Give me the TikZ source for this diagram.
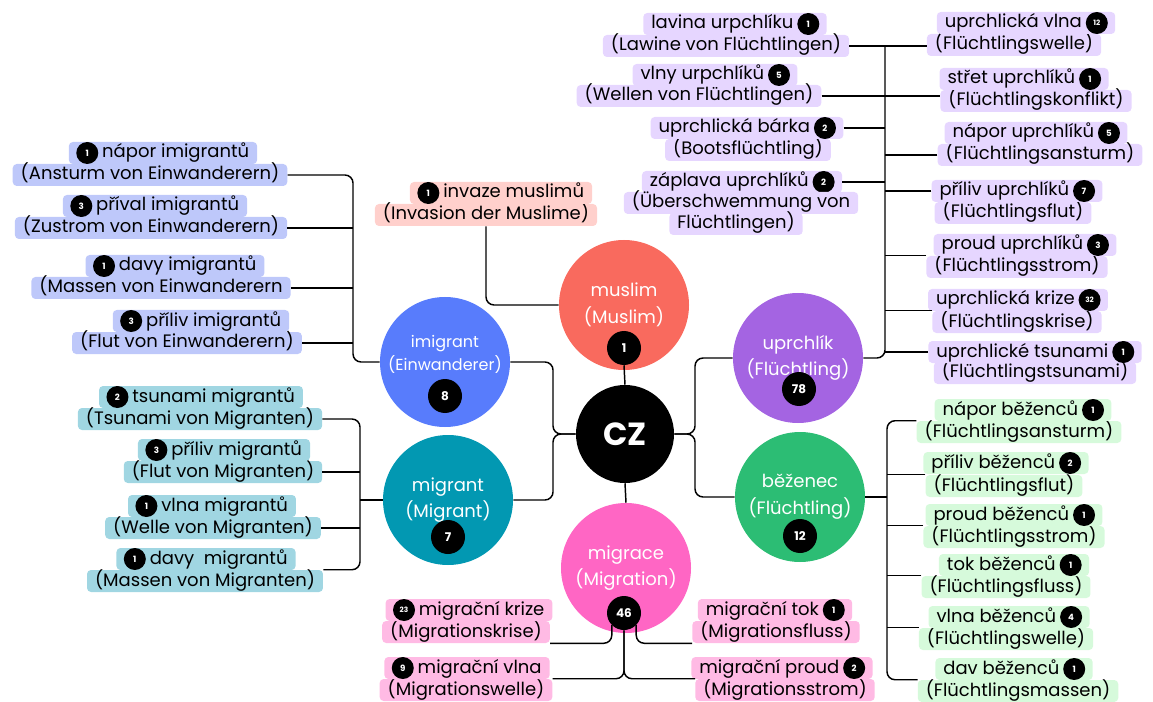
\documentclass[tikz,border=0pt]{standalone}
\usepackage{fontspec}
\setmainfont{Poppins}

\definecolor{imigC}{RGB}{88,124,252}
\definecolor{imigL}{RGB}{190,200,250}
\definecolor{migrC}{RGB}{2,152,178}
\definecolor{migrL}{RGB}{160,214,226}
\definecolor{musC}{RGB}{249,106,94}
\definecolor{musL}{RGB}{255,208,204}
\definecolor{uprC}{RGB}{164,100,226}
\definecolor{uprL}{RGB}{230,214,255}
\definecolor{bezC}{RGB}{44,189,116}
\definecolor{bezL}{RGB}{214,250,219}
\definecolor{migcC}{RGB}{255,102,196}
\definecolor{migcL}{RGB}{255,186,228}

\newcommand\bgap{\hspace*{19pt}}

\begin{document}
\begin{tikzpicture}[x=0.75pt,y=0.75pt,yscale=-1,xscale=1,
  hl/.style={rounded corners=3pt, inner xsep=6pt, inner ysep=1.5pt, text height=10.5pt, text depth=3pt, font=\fontsize{13.5}{16}\selectfont},
  bdg/.style={circle, fill=black, text=white, inner sep=0pt, minimum size=16.5pt, font=\bfseries\fontsize{6.5}{7}\selectfont},
  bigbdg/.style={bdg, minimum size=25.5pt, font=\bfseries\fontsize{9}{10}\selectfont},
  topic/.style={circle, minimum size=97.5pt, inner sep=0pt, text=white, align=center, font=\fontsize{13.5}{20}\selectfont},
  conn/.style={line width=1.1pt, rounded corners=6pt}]
\useasboundingbox (0,0) rectangle (1153,702);

%Topic circles
\node[topic, fill=black, minimum size=73.5pt, font=\bfseries\fontsize{24}{26}\selectfont] (cz) at (625,434) {CZ};
\node[topic, fill=musC] (mus) at (624,305) {muslim\\(Muslim)};
\node[bigbdg] (mub) at (624,348) {1};
\node[topic, fill=imigC, font=\fontsize{12}{17}\selectfont] (imig) at (445,362) {imigrant\\(Einwanderer)\\[-3.5pt]\mbox{}};
\node[bigbdg] (imb) at (445,396) {8};
\node[topic, fill=migrC] (migr) at (448,500) {migrant\\(Migrant)};
\node[bigbdg] (mib) at (448,537) {7};
\node[topic, fill=migcC] (migc) at (626,568) {migrace\\(Migration)};
\node[bigbdg] (mgb) at (624,613) {46};
\node[topic, fill=uprC] (upr) at (798,358) {uprchlík\\(Flüchtling)};
\node[bigbdg] (upb) at (799,389) {78};
\node[topic, fill=bezC] (bez) at (800,497) {běženec\\(Flüchtling)};
\node[bigbdg] (bzb) at (800,536) {12};

%imigrant labels
\node[hl, fill=imigL] (ia2) at (150,175) {(Ansturm von Einwanderern)};
\node[hl, fill=imigL] (ia1) at (163,153) {\bgap nápor imigrantů};
\node[bdg] (ia1b) at ([xshift=14pt]ia1.west) {1};
\node[hl, fill=imigL] (ib2) at (151,228) {(Zustrom von Einwanderern)};
\node[hl, fill=imigL] (ib1) at (155,206) {\bgap příval imigrantů};
\node[bdg] (ib1b) at ([xshift=14pt]ib1.west) {3};
\node[hl, fill=imigL] (ic2) at (161,288) {(Massen von Einwanderern};
\node[hl, fill=imigL] (ic1) at (175,266) {\bgap davy imigrantů};
\node[bdg] (ic1b) at ([xshift=14pt]ic1.west) {1};
\node[hl, fill=imigL] (id2) at (187,343) {(Flut von Einwanderern)};
\node[hl, fill=imigL] (id1) at (201,321) {\bgap příliv imigrantů};
\node[bdg] (id1b) at ([xshift=14pt]id1.west) {3};

%migrant labels
\node[hl, fill=migrL] (ma2) at (200,419) {(Tsunami von Migranten)};
\node[hl, fill=migrL] (ma1) at (201,397) {\bgap tsunami migrantů};
\node[bdg] (ma1b) at ([xshift=14pt]ma1.west) {2};
\node[hl, fill=migrL] (mb2) at (223,472) {(Flut von Migranten)};
\node[hl, fill=migrL] (mb1) at (224,450) {\bgap příliv migrantů};
\node[bdg] (mb1b) at ([xshift=14pt]mb1.west) {3};
\node[hl, fill=migrL] (mc2) at (213,528) {(Welle von Migranten)};
\node[hl, fill=migrL] (mc1) at (212,506) {\bgap vlna migrantů};
\node[bdg] (mc1b) at ([xshift=14pt]mc1.west) {1};
\node[hl, fill=migrL] (md2) at (205,581) {(Massen von Migranten)};
\node[hl, fill=migrL] (md1) at (206,559) {\bgap davy\ \ migrantů};
\node[bdg] (md1b) at ([xshift=14pt]md1.west) {1};

%muslim label
\node[hl, fill=musL] (mu2) at (486,215) {(Invasion der Muslime)};
\node[hl, fill=musL] (mu1) at (501,193) {\bgap invaze muslimů};
\node[bdg] (mu1b) at ([xshift=14pt]mu1.west) {1};

%uprchlik labels, left
\node[hl, fill=uprL] (ua2) at (726,46) {(Lawine von Flüchtlingen)};
\node[hl, fill=uprL] (ua1) at (735,24) {lavina urpchlíku\bgap};
\node[bdg] (ua1b) at ([xshift=-14pt]ua1.east) {1};
\node[hl, fill=uprL] (ub2) at (699,96) {(Wellen von Flüchtlingen)};
\node[hl, fill=uprL] (ub1) at (715,75) {vlny urpchlíků\bgap};
\node[bdg] (ub1b) at ([xshift=-14pt]ub1.east) {5};
\node[hl, fill=uprL] (uc2) at (748,150) {(Bootsflüchtling)};
\node[hl, fill=uprL] (uc1) at (747,128) {uprchlická bárka\bgap};
\node[bdg] (uc1b) at ([xshift=-14pt]uc1.east) {2};
\node[hl, fill=uprL] (ud1) at (742,182) {záplava uprchlíků\bgap};
\node[bdg] (ud1b) at ([xshift=-14pt]ud1.east) {2};
\node[hl, fill=uprL] (ud2) at (741,203) {(Überschwemmung von};
\node[hl, fill=uprL] (ud3) at (736,224) {Flüchtlingen)};

%uprchlik labels, right
\node[hl, fill=uprL] (ue2) at (1014,45) {(Flüchtlingswelle)};
\node[hl, fill=uprL] (ue1) at (1026,23) {uprchlická vlna\bgap};
\node[bdg, font=\bfseries\fontsize{5.5}{6}\selectfont] (ue1b) at ([xshift=-14pt]ue1.east) {12};
\node[hl, fill=uprL] (uf2) at (1036,101) {(Flüchtlingskonflikt)};
\node[hl, fill=uprL] (uf1) at (1024,79) {střet uprchlíků\bgap};
\node[bdg] (uf1b) at ([xshift=-14pt]uf1.east) {1};
\node[hl, fill=uprL] (ug2) at (1040,155) {(Flüchtlingsansturm)};
\node[hl, fill=uprL] (ug1) at (1036,133) {nápor uprchlíků\bgap};
\node[bdg] (ug1b) at ([xshift=-14pt]ug1.east) {5};
\node[hl, fill=uprL] (uh2) at (1013,213) {(Flüchtlingsflut)};
\node[hl, fill=uprL] (uh1) at (1017,191) {příliv uprchlíků\bgap};
\node[bdg] (uh1b) at ([xshift=-14pt]uh1.east) {7};
\node[hl, fill=uprL] (ui2) at (1017,267) {(Flüchtlingsstrom)};
\node[hl, fill=uprL] (ui1) at (1025,245) {proud uprchlíků\bgap};
\node[bdg] (ui1b) at ([xshift=-14pt]ui1.east) {3};
\node[hl, fill=uprL] (uj2) at (1017,322) {(Flüchtlingskrise)};
\node[hl, fill=uprL] (uj1) at (1018,300) {uprchlická krize\bgap};
\node[bdg, font=\bfseries\fontsize{5.5}{6}\selectfont] (uj1b) at ([xshift=-14pt]uj1.east) {32};
\node[hl, fill=uprL] (uk2) at (1035,373) {(Flüchtlingstsunami)};
\node[hl, fill=uprL] (uk1) at (1035,352) {uprchlické tsunami\bgap};
\node[bdg] (uk1b) at ([xshift=-14pt]uk1.east) {1};

%bezenec labels
\node[hl, fill=bezL] (ba2) at (1019,432) {(Flüchtlingsansturm)};
\node[hl, fill=bezL] (ba1) at (1023,410) {nápor běženců\bgap};
\node[bdg] (ba1b) at ([xshift=-14pt]ba1.east) {1};
\node[hl, fill=bezL] (bb2) at (1004,486) {(Flüchtlingsflut)};
\node[hl, fill=bezL] (bb1) at (1006,463) {příliv běženců\bgap};
\node[bdg] (bb1b) at ([xshift=-14pt]bb1.east) {2};
\node[hl, fill=bezL] (bc2) at (1014,537) {(Flüchtlingsstrom)};
\node[hl, fill=bezL] (bc1) at (1014,515) {proud běženců\bgap};
\node[bdg] (bc1b) at ([xshift=-14pt]bc1.east) {1};
\node[hl, fill=bezL] (bd2) at (1006,587) {(Flüchtlingsfluss)};
\node[hl, fill=bezL] (bd1) at (1014,565) {tok běženců\bgap};
\node[bdg] (bd1b) at ([xshift=-14pt]bd1.east) {1};
\node[hl, fill=bezL] (be2) at (1006,639) {(Flüchtlingswelle)};
\node[hl, fill=bezL] (be1) at (1009,617) {vlna běženců\bgap};
\node[bdg] (be1b) at ([xshift=-14pt]be1.east) {4};
\node[hl, fill=bezL] (bf2) at (1018,691) {(Flüchtlingsmassen)};
\node[hl, fill=bezL] (bf1) at (1014,669) {dav běženců\bgap};
\node[bdg] (bf1b) at ([xshift=-14pt]bf1.east) {1};

%migrace labels
\node[hl, fill=migcL] (ga2) at (466,632) {(Migrationskrise)};
\node[hl, fill=migcL] (ga1) at (469,610) {\bgap migrační krize};
\node[bdg, font=\bfseries\fontsize{5.5}{6}\selectfont] (ga1b) at ([xshift=14pt]ga1.west) {23};
\node[hl, fill=migcL] (gb2) at (466,690) {(Migrationswelle)};
\node[hl, fill=migcL] (gb1) at (467,668) {\bgap migrační vlna};
\node[bdg] (gb1b) at ([xshift=14pt]gb1.west) {9};
\node[hl, fill=migcL] (gc2) at (776,632) {(Migrationsfluss)};
\node[hl, fill=migcL] (gc1) at (775,610) {migrační tok\bgap};
\node[bdg] (gc1b) at ([xshift=-14pt]gc1.east) {1};
\node[hl, fill=migcL] (gd2) at (785,690) {(Migrationsstrom)};
\node[hl, fill=migcL] (gd1) at (782,668) {migrační proud\bgap};
\node[bdg] (gd1b) at ([xshift=-14pt]gd1.east) {2};

%Trunks
\coordinate (ti) at (353,0);
\coordinate (tm) at (360,0);
\coordinate (tu) at (885,0);
\coordinate (tb) at (887,0);
\coordinate (czl) at (553,434);
\coordinate (czr) at (695,434);

%Connectors around CZ
\draw[conn] (cz.north) -- (mub.south);
\draw[conn] (cz.south) -- (migc.north);
\draw[conn] (cz.west) -- (czl) |- (imig.east);
\draw[conn] (cz.west) -- (czl) |- (migr.east);
\draw[conn] (cz.east) -- (czr) |- (upr.west);
\draw[conn] (cz.east) -- (czr) |- (bez.west);

%imigrant
\draw[conn] (ia2.east) -| (ti |- imig.west) -- (imig.west);
\foreach \n in {ib2,ic2,id2} \draw[conn] (\n.east) -- (\n.east -| ti);
%migrant
\draw[conn] (ma2.east) -| (tm |- md2.north east) -- (md2.north east);
\foreach \n in {mb2,mc2} \draw[conn] (\n.east) -- (\n.east -| tm);
\draw[conn] (migr.west) -- (migr.west -| tm);
%muslim
\draw[conn] (mu2.south) |- (mus.west);
%uprchlik
\draw[conn] (tu |- ua2.east) |- (upr.east);
\draw[conn] (ua2.east) -- (ue2.west |- ua2.east);
\draw[conn] (ub2.east) -- (uf2.west |- ub2.east);
\foreach \n in {uc1.east, ud1.east, ug2.west, uh1.west, ui2.north west, uj2.north west, uk1.west}
  \draw[conn] (\n) -- (\n -| tu);
%bezenec
\draw[conn] (ba2.north west) -| (tb |- bf2.north west) -- (bf2.north west);
\foreach \n in {bb2,bc2,bd2,be2} \draw[conn] (\n.north west) -- (\n.north west -| tb);
\draw[conn] (bez.east) -- (bez.east -| tb);
%migrace
\draw[conn] (ga2.south east) -| (mgb.south west);
\draw[conn] (gc2.south west) -| (mgb.south east);
\draw[conn] (gb2.north east) -| (mgb.south);
\draw[conn] (gd2.north west) -| (mgb.south);

\end{tikzpicture}
\end{document}
